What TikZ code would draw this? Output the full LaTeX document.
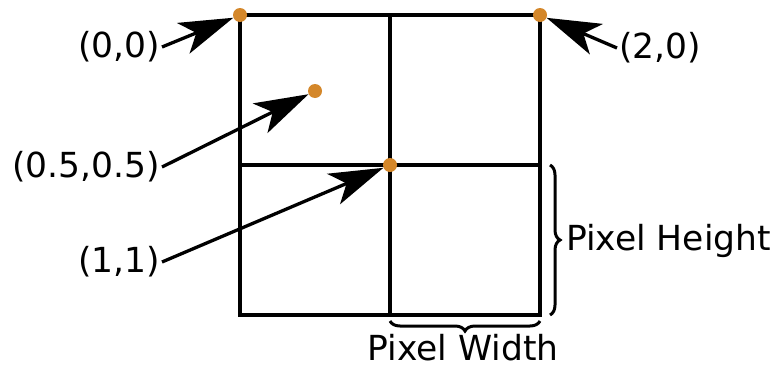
\documentclass[tikz,border=0pt]{standalone}
\usepackage{fontspec}
\setmainfont{DejaVu Sans}
\usetikzlibrary{arrows.meta,decorations.pathreplacing}
\definecolor{dotorange}{RGB}{212,135,42}
\begin{document}
\begin{tikzpicture}[x=1pt,y=-1pt,
  gridline/.style={line width=3.3pt, line cap=rect},
  dotnode/.style={circle, fill=dotorange, inner sep=0pt, minimum size=14pt},
  lbl/.style={font=\fontsize{34.5}{41}\selectfont, inner sep=2pt},
  pointer/.style={line width=3.3pt, -{Stealth[length=54pt, width=33pt, inset=14pt]}},
  bracestyle/.style={line width=3pt, decorate, decoration={brace, amplitude=10pt}}]
\useasboundingbox (0,0) rectangle (781,367);
% grid
\draw[gridline] (240,15) rectangle (540,315);
\draw[gridline] (390,15) -- (390,315);
\draw[gridline] (240,165) -- (540,165);
% dots
\node[dotnode] (d00) at (240,15) {};
\node[dotnode] (d20) at (540,15) {};
\node[dotnode] (d55) at (315,91) {};
\node[dotnode] (d11) at (390,165) {};
% labels
\node[lbl, anchor=east] (l00) at (162,47) {(0,0)};
\node[lbl, anchor=west] (l20) at (617,48) {(2,0)};
\node[lbl, anchor=east] (l55) at (162,167) {(0.5,0.5)};
\node[lbl, anchor=east] (l11) at (162,262) {(1,1)};
% arrows
\draw[pointer] (l00.east) -- (d00);
\draw[pointer] (l20.west) -- (d20);
\draw[pointer] (l55.east) -- (d55);
\draw[pointer] (l11.east) -- (d11);
% braces
\coordinate (bh1) at (550,165);
\coordinate (bh2) at (550,315);
\draw[bracestyle] (bh1) -- (bh2);
\coordinate (bw1) at (540,321);
\coordinate (bw2) at (390,321);
\draw[bracestyle] (bw1) -- (bw2);
\node[lbl, anchor=base west, inner sep=0pt] (ph) at (566,250) {Pixel Height};
\node[lbl, anchor=base, inner sep=0pt] (pw) at (463,360) {Pixel Width};
\end{tikzpicture}
\end{document}
